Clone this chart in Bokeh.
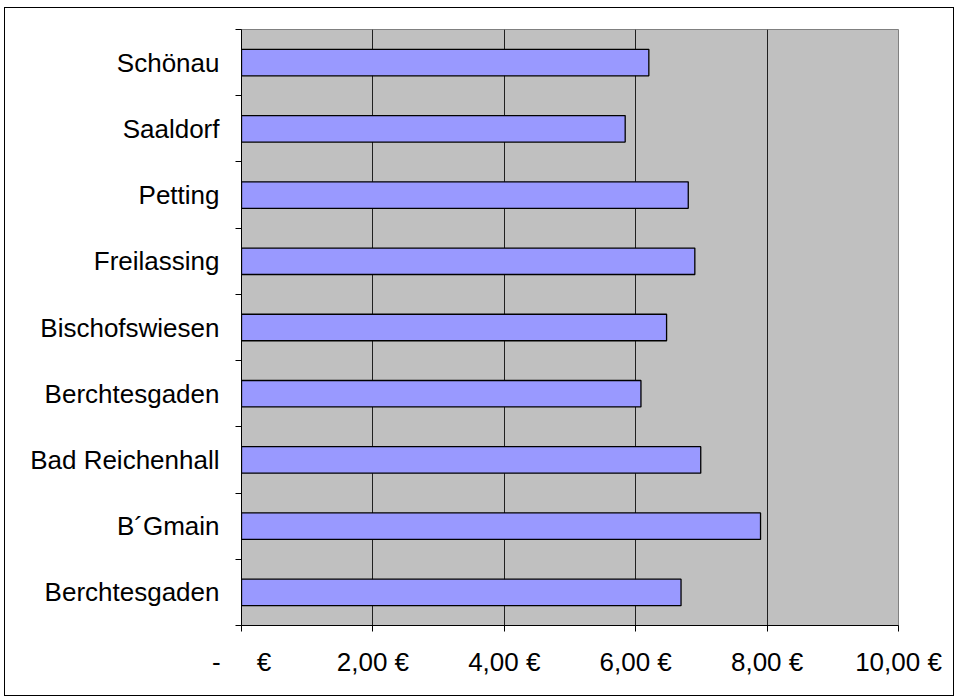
from bokeh.plotting import figure
from bokeh.models import Range1d, FixedTicker, ColumnDataSource, CustomJSTickFormatter
from bokeh.embed import file_html
from bokeh.resources import INLINE

# Categories from bottom to top
categories = ["Berchtesgaden", "B\u00b4Gmain", "Bad Reichenhall", "Berchtesgaden",
              "Bischofswiesen", "Freilassing", "Petting", "Saaldorf", "Sch\u00f6nau"]
values = [6.69, 7.90, 6.99, 6.08, 6.47, 6.90, 6.80, 5.84, 6.20]
x_ticks = [0, 2, 4, 6, 8, 10]
x_tick_labels = ["-\u00a0\u00a0\u00a0\u00a0\u00a0\u20ac", "2,00 \u20ac", "4,00 \u20ac",
                 "6,00 \u20ac", "8,00 \u20ac", "10,00 \u20ac"]

positions = [i + 0.5 for i in range(len(categories))]
boundaries = list(range(len(categories) + 1))

src = ColumnDataSource(dict(y=positions, v=values, name=categories))

p = figure(width=950, height=689, output_backend="svg", toolbar_location=None,
           x_range=Range1d(0, 10), y_range=Range1d(0, len(categories)),
           min_border_left=236, min_border_right=57, min_border_top=21, min_border_bottom=72)
p.margin = (7, 0, 0, 4)
p.styles = {"border": "1px solid black", "box-sizing": "border-box"}
p.border_fill_color = "white"
p.background_fill_color = "#C0C0C0"
p.outline_line_color = "#808080"
p.outline_line_width = 1

p.hbar(y="y", right="v", left=0, height=0.4, fill_color="#9999FF",
       line_color="black", line_width=1.3, source=src)

font = "Liberation Sans"

p.xgrid.ticker = FixedTicker(ticks=[2, 4, 6, 8])
p.xgrid.grid_line_color = "#202020"
p.xgrid.grid_line_width = 1
p.ygrid.visible = False

xa = p.xaxis[0]
xa.ticker = FixedTicker(ticks=x_ticks)
xa.formatter = CustomJSTickFormatter(args=dict(t=x_ticks, l=x_tick_labels),
                                     code="const i = t.indexOf(Math.round(tick)); return i >= 0 ? l[i] : '';")
xa.major_tick_in = 0
xa.major_tick_out = 6
xa.minor_tick_line_color = None
xa.axis_line_color = "black"
xa.major_tick_line_color = "black"
xa.major_label_text_font = font
xa.major_label_text_font_size = "26px"
xa.major_label_text_color = "black"
xa.major_label_standoff = 15

ya = p.yaxis[0]
ya.ticker = FixedTicker(ticks=positions, minor_ticks=boundaries)
ya.formatter = CustomJSTickFormatter(args=dict(names=categories),
                                     code="return names[Math.round(tick - 0.5)];")
ya.major_tick_in = 0
ya.major_tick_out = 0
ya.minor_tick_in = 0
ya.minor_tick_out = 6
ya.minor_tick_line_color = "black"
ya.axis_line_color = "black"
ya.major_label_text_font = font
ya.major_label_text_font_size = "26px"
ya.major_label_text_color = "black"
ya.major_label_standoff = 16

open("out.html", "w").write(file_html(p, INLINE))
